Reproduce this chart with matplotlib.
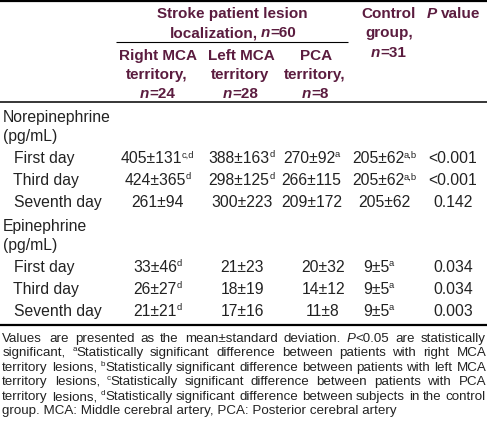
import re
import matplotlib
matplotlib.use('Agg')
import matplotlib.pyplot as plt
from matplotlib.font_manager import FontProperties, findfont, get_font

FONT = 'Liberation Sans'
HEAD_C = '#5b1c3f'
BODY_C = '#222222'

# ---- table content ----
row_labels = ['First day', 'Third day', 'Seventh day']
groups = ['Norepinephrine', 'Epinephrine']
unit = '(pg/mL)'

ne_right = ['405±131{c,d}', '424±365{d}', '261±94']
ne_left = ['388±163{d}', '298±125{d}', '300±223']
ne_pca = ['270±92{a}', '266±115', '209±172']
ne_ctrl = ['205±62{a,b}', '205±62{a,b}', '205±62']
ne_p = ['<0.001', '<0.001', '0.142']

ep_right = ['33±46{d}', '26±27{d}', '21±21{d}']
ep_left = ['21±23', '18±19', '17±16']
ep_pca = ['20±32', '14±12', '11±8']
ep_ctrl = ['9±5{a}', '9±5{a}', '9±5{a}']
ep_p = ['0.034', '0.034', '0.003']

head_span = ['Stroke patient lesion', 'localization, *n*=60']
head_cols = [['Right MCA', 'territory,', '*n*=24'],
             ['Left MCA', 'territory', '*n*=28'],
             ['PCA', 'territory,', '*n*=8'],
             ['Control', 'group,', '*n*=31'],
             ['*P* value']]

footnote = [
    'Values are presented as the mean±standard deviation. *P*<0.05 are statistically',
    'significant, {a}Statistically significant difference between patients with right MCA',
    'territory lesions, {b}Statistically significant difference between patients with left MCA',
    'territory lesions, {c}Statistically significant difference between patients with PCA',
    'territory lesions, {d}Statistically significant difference between subjects in the control',
    'group. MCA: Middle cerebral artery, PCA: Posterior cerebral artery',
]

# ---- figure in pixel coords ----
fig = plt.figure(figsize=(4.87, 4.28), dpi=100)
ax = fig.add_axes([0, 0, 1, 1])
ax.set_xlim(0, 487); ax.set_ylim(428, 0); ax.axis('off')


def ftfont(weight, style, size):
    f = get_font(findfont(FontProperties(family=FONT, weight=weight, style=style)))
    f.set_size(size, 100)
    return f

def advance(txt, size, weight='normal', style='normal'):
    f = ftfont(weight, style, size)
    return sum(f.load_char(ord(ch)).linearHoriAdvance / 65536 for ch in txt)

def bearing(txt, size, weight='normal', style='normal'):
    f = ftfont(weight, style, size)
    return f.load_char(ord(txt[0])).horiBearingX / 64

def parse(s):
    segs = []
    for p in re.split(r'(\{[^}]*\}|\*[^*]*\*)', s):
        if not p:
            continue
        if p[0] == '{':
            segs.append((p[1:-1], 's'))
        elif p[0] == '*':
            segs.append((p[1:-1], 'i'))
        else:
            segs.append((p, 'n'))
    return segs

def put(x, y, txt, kind, size, color, weight):
    sz = size * 0.6 if kind == 's' else size
    st = 'italic' if kind == 'i' else 'normal'
    dy = -size * 100 / 72 * 0.36 if kind == 's' else 0
    s = txt.strip()
    if s:
        lead = advance(txt[:len(txt) - len(txt.lstrip())], sz, weight, st)
        ax.text(x + lead + bearing(s, sz, weight, st), y + dy, s, fontsize=sz,
                fontweight=weight, fontstyle=st, color=color, family=FONT,
                ha='left', va='baseline')
    return advance(txt, sz, weight, st)

def width_of(segs, size, weight):
    return sum(advance(t, size * 0.6 if k == 's' else size, weight,
                       'italic' if k == 'i' else 'normal') for t, k in segs)

def draw(x, y, line, size, color, weight='normal', ha='left', width=None):
    if width is None:
        # natural spacing: runs of same style drawn as one text
        segs = parse(line)
        total = width_of(segs, size, weight)
        if ha == 'center':
            x -= total / 2
        elif ha == 'right':
            x -= total
        for t, k in segs:
            x += put(x, y, t, k, size, color, weight)
        return
    words = [parse(w) for w in line.split(' ')]
    ww = [width_of(w, size, weight) for w in words]
    gap = (width - sum(ww)) / (len(words) - 1)
    for w, wdt in zip(words, ww):
        cx = x
        for t, k in w:
            cx += put(cx, y, t, k, size, color, weight)
        x += wdt + gap

# ---- rules ----
ax.hlines(1, 0, 487, color='black', lw=1.6)
ax.hlines(42, 116, 348, color='black', lw=0.8)
ax.hlines(102, 0, 487, color='black', lw=1.1)
ax.hlines(325, 0, 487, color='black', lw=1.6)

# ---- header ----
HS = 11
draw(232, 18, head_span[0], HS, HEAD_C, 'bold', 'center')
draw(232, 37, head_span[1], HS, HEAD_C, 'bold', 'center')
head_x = [157, 240, 315, 388, 453]
head_y = [[60, 79, 98], [60, 79, 98], [60, 79, 98],
          [18, 37, 57], [18]]
for cx, lines, ys in zip(head_x, head_cols, head_y):
    for ln, yy in zip(lines, ys):
        draw(cx, yy, ln, HS, HEAD_C, 'bold', 'center')

# ---- body ----
BS = 11.3
blocks = [(ne_right, ne_left, ne_pca, ne_ctrl, ne_p),
          (ep_right, ep_left, ep_pca, ep_ctrl, ep_p)]
block_y = [122, 231]
col_x = [[157, 241, 311, 384, 452], [157, 241, 322, 378, 452]]
for cols, y0, gname, cx in zip(blocks, block_y, groups, col_x):
    draw(2, y0, gname, BS, BODY_C)
    draw(2, y0 + 19, unit, BS, BODY_C)
    for r, lab in enumerate(row_labels):
        yy = y0 + 41 + 22 * r
        draw(13, yy, lab, BS, BODY_C)
        for c, vals in enumerate(cols):
            draw(cx[c], yy, vals[r], BS, BODY_C, ha='center')

# ---- footnote ----
FS = 9.6
for i, ln in enumerate(footnote):
    yy = round(342 + 14.4 * i)
    last = i == len(footnote) - 1
    draw(2, yy, ln, FS, BODY_C, width=None if last else 483)

fig.savefig('out.png', dpi=100)
